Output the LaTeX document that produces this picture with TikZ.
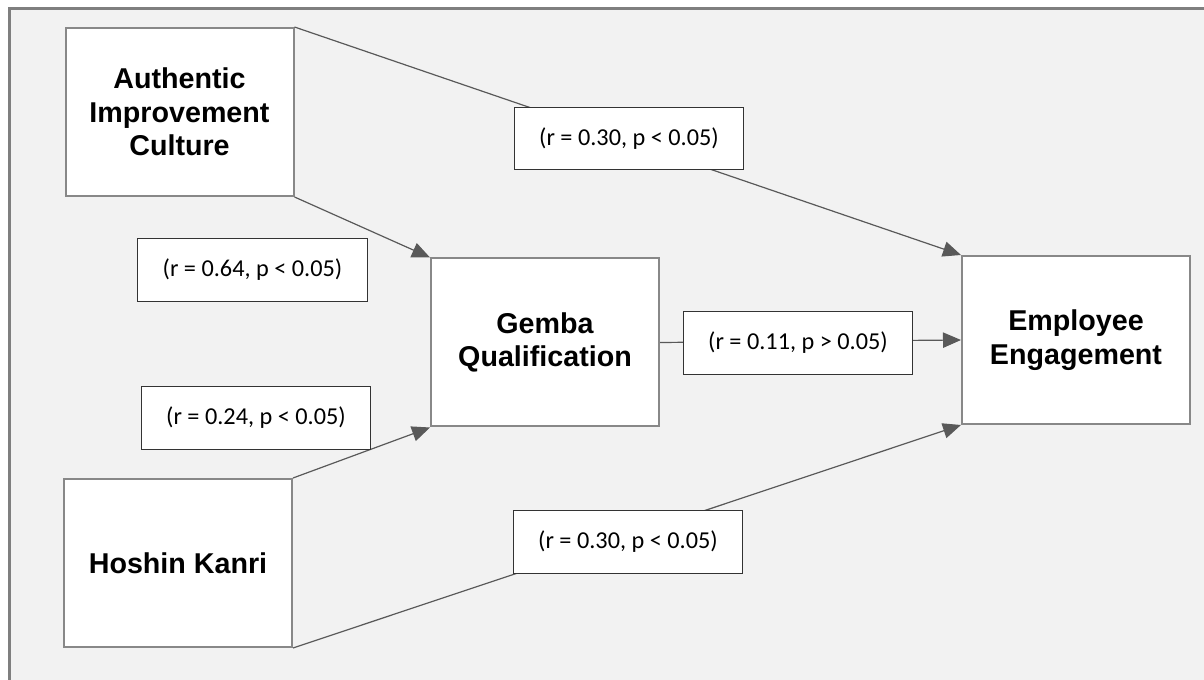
\documentclass[tikz,border=0pt]{standalone}
\usepackage{fontspec}
\setmainfont{Liberation Sans}
\newfontfamily\coeffont{Carlito}
\usetikzlibrary{arrows.meta}

\definecolor{framegray}{HTML}{7F7F7F}
\definecolor{boxgray}{HTML}{888888}
\definecolor{arrowgray}{HTML}{595959}
\definecolor{canvas}{HTML}{F2F2F2}

\tikzset{
  construct/.style={draw=boxgray, line width=1.5pt, fill=white, inner sep=0pt,
    minimum width=171pt, minimum height=126pt, align=center,
    font=\fontsize{21.5}{25}\selectfont\bfseries},
  coef/.style={draw=black!80, line width=0.9pt, fill=white, inner sep=0pt,
    minimum width=172pt, minimum height=47pt,
    font=\coeffont\fontsize{18.2}{21}\selectfont},
  link/.style={draw=arrowgray, line width=0.9pt},
  effect/.style={link, -{Triangle[length=13.5pt,width=11.5pt]}},
}

\begin{document}
\begin{tikzpicture}[x=0.75pt, y=-0.75pt]
      \useasboundingbox (0,0) rectangle (1204,680);
      \fill[white] (0,0) rectangle (1204,680);
      \draw[framegray, line width=2.25pt, fill=canvas] (9,9) rectangle (1240,720);
      % construct nodes with absolute coordinates
      \node[construct] (aic) at (179.5,112) {Authentic\\Improvement\\Culture};
      \node[construct] (hk) at (178,563) {Hoshin Kanri};
      \node[construct] (gq) at (545,342.5) {Gemba\\Qualification};
      \node[construct] (ee) at (1076,340) {Employee\\Engagement};
      % directed edges
      \draw [effect] (aic.north east) -- (ee.north west);
      \draw [effect] (aic.south east) -- (gq.north west);
      \draw [effect] (hk.north east) -- (gq.south west);
      \draw [effect] (hk.south east) -- (ee.south west);
      \draw [effect] (gq.east) -- (ee.west);
      % coefficient boxes on top of the edges
      \node[coef] (c1) at (629,138.5) {(r = 0.30, p < 0.05)};
      \node[coef] (c2) at (252.5,270) {(r = 0.64, p < 0.05)};
      \node[coef] (c3) at (256,418) {(r = 0.24, p < 0.05)};
      \node[coef] (c4) at (798,343) {(r = 0.11, p > 0.05)};
      \node[coef] (c5) at (628,542) {(r = 0.30, p < 0.05)};
    \end{tikzpicture}
\end{document}
